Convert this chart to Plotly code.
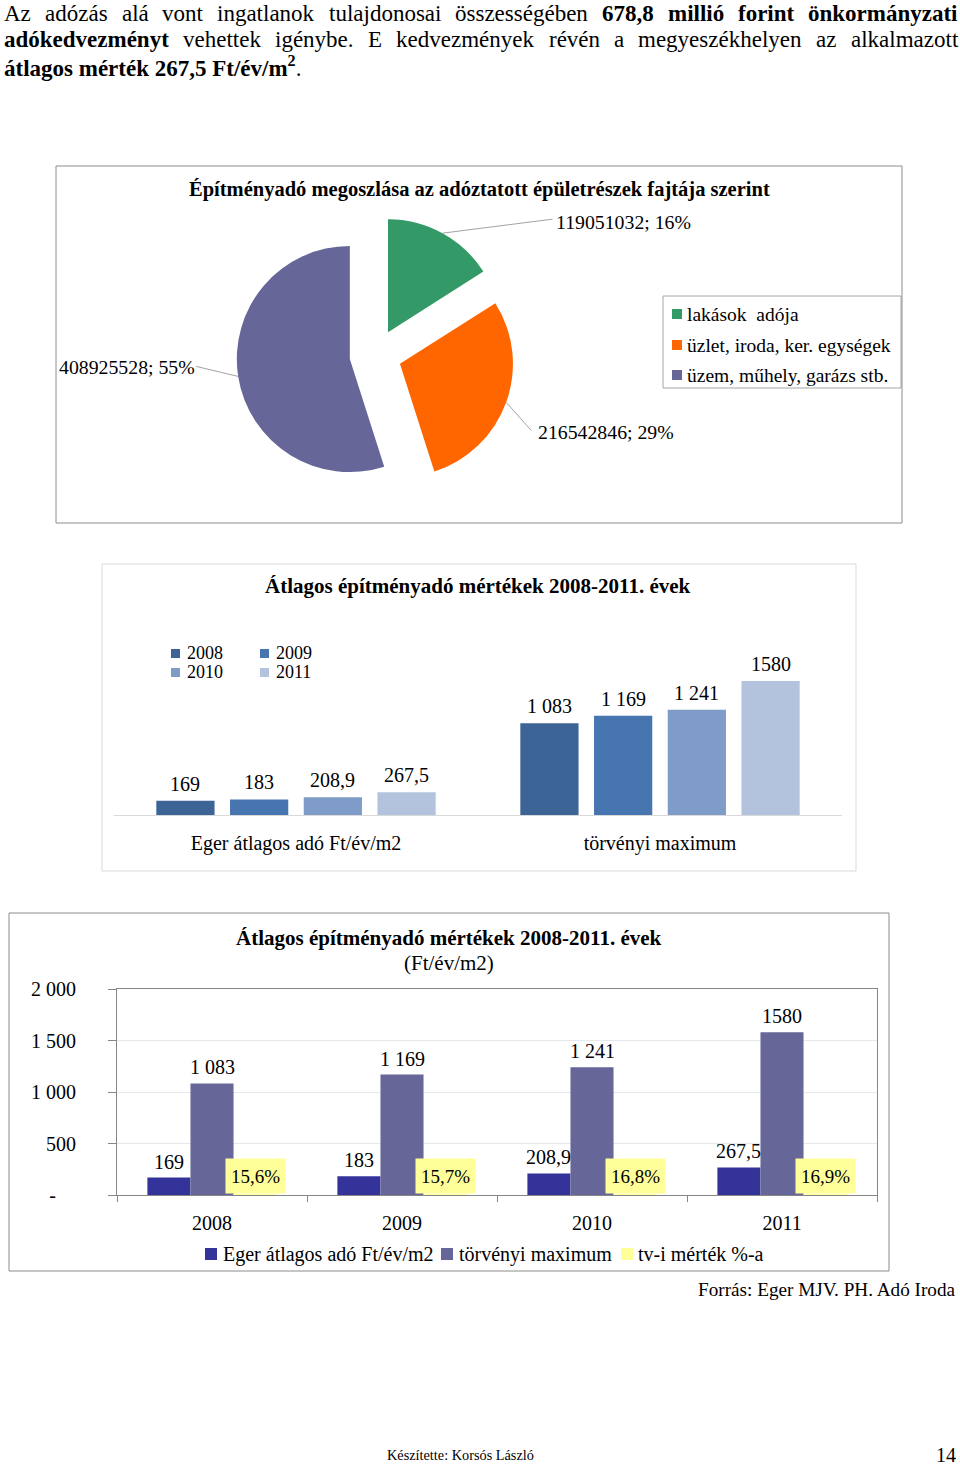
import math
import plotly.graph_objects as go

W, H = 960, 1468

# ---------------- data ----------------
pie_labels = ["lakások\u00a0 adója", "üzlet, iroda, ker. egységek", "üzem, műhely, garázs stb."]
pie_values = [119051032, 216542846, 408925528]
pie_colors = ["#339966", "#FF6600", "#666699"]

years = ["2008", "2009", "2010", "2011"]
eger_avg = [169, 183, 208.9, 267.5]
legal_max = [1083, 1169, 1241, 1580]
legal_pct = [0.156, 0.157, 0.168, 0.169]
eger_labels = ["169", "183", "208,9", "267,5"]
legal_labels = ["1 083", "1 169", "1 241", "1580"]
pct_labels = ["15,6%", "15,7%", "16,8%", "16,9%"]

groups2 = ["Eger átlagos adó Ft/év/m2", "törvényi maximum"]
year_colors = ["#3D6497", "#4775AF", "#7F9CC8", "#B3C3DE"]
ser3_names = ["Eger átlagos adó Ft/év/m2", "törvényi maximum", "tv-i mérték %-a"]
ser3_colors = ["#333399", "#666699", "#FFFF99"]

y3_ticks = [0, 500, 1000, 1500, 2000]
y3_ticktext = ["-\u00a0\u00a0\u00a0\u00a0", "500", "1 000", "1 500", "2 000"]

# ---------------- helpers ----------------
def X(p):
    return p / W


def Y(p):
    return 1 - p / H


TR = {"A": 722, "E": 611, "a": 444, "á": 444, "b": 500, "d": 500, "e": 444, "é": 444, "g": 500,
      "h": 500, "i": 278, "j": 278, "k": 500, "l": 278, "m": 778, "n": 500, "o": 500, "ó": 500,
      "ö": 500, "r": 333, "s": 389, "t": 278, "u": 500, "v": 500, "y": 500, "z": 444, ".": 250,
      ",": 250, " ": 250}
TB = {"a": 500, "á": 500, "d": 556, "e": 444, "é": 444, "f": 333, "i": 278, "k": 556, "l": 278,
      "m": 833, "n": 556, "o": 500, "ó": 500, "ö": 500, "r": 444, "t": 333, "v": 500, "y": 500,
      "z": 444, ",": 250, ".": 250, " ": 250}


def tw(s, bold, size):
    t = TB if bold else TR
    return sum(t.get(c, 500) for c in s) / 1000.0 * size


def note(x, y, text, size, xanchor="center", yanchor="middle", **kw):
    d = dict(xref="paper", yref="paper", x=X(x), y=Y(y), xanchor=xanchor, yanchor=yanchor,
             text=text, showarrow=False, borderpad=0, font=dict(size=size))
    d.update(kw)
    return d


fig = go.Figure()
annotations = []
shapes = []

# ---------------- pie ----------------
PIE_CX, PIE_CY, PIE_R, PIE_PULL = 375.5, 355.0, 113.0, 0.23
half = PIE_R * (1 + PIE_PULL)
fig.add_trace(go.Pie(
    labels=pie_labels, values=pie_values, sort=False, direction="clockwise", rotation=0,
    pull=[PIE_PULL] * len(pie_values), marker=dict(colors=pie_colors, line=dict(width=0)),
    textinfo="none", showlegend=False, hoverinfo="label+value+percent",
    domain=dict(x=[X(PIE_CX - half), X(PIE_CX + half)], y=[Y(PIE_CY + half), Y(PIE_CY - half)]),
))

total = float(sum(pie_values))
leader_tail = [(110, -14), (25, 28), (-42, -10)]
label_pos = [(555, 222, "left"), (537, 432, "left"), (196, 367, "right")]
cum = 0.0
for i, v in enumerate(pie_values):
    frac = v / total
    mid = (cum + frac / 2) * 2 * math.pi
    cum += frac
    tx = PIE_CX + PIE_R * (1 + PIE_PULL) * math.sin(mid)
    ty = PIE_CY - PIE_R * (1 + PIE_PULL) * math.cos(mid)
    shapes.append(dict(type="line", xref="paper", yref="paper", x0=X(tx), y0=Y(ty),
                       x1=X(tx + leader_tail[i][0]), y1=Y(ty + leader_tail[i][1]),
                       line=dict(color="#8a8a8a", width=0.8)))
    lx, ly, anc = label_pos[i]
    annotations.append(note(lx, ly, f"{v}; {round(frac * 100)}%", 19.8, xanchor=anc))

annotations.append(note(479, 190, "<b>Építményadó megoszlása az adóztatott épületrészek fajtája szerint</b>", 20.5))
shapes.append(dict(type="rect", xref="paper", yref="paper", x0=X(663), x1=X(901), y0=Y(296), y1=Y(388),
                   line=dict(color="#a6a6a6", width=1)))
for lab, col, yy in zip(pie_labels, pie_colors, [314, 345, 375]):
    shapes.append(dict(type="rect", xref="paper", yref="paper", x0=X(672), x1=X(682), y0=Y(yy + 5), y1=Y(yy - 5),
                       fillcolor=col, line=dict(width=0)))
    annotations.append(note(686, yy, lab, 19.5, xanchor="left"))
shapes.append(dict(type="rect", xref="paper", yref="paper", x0=X(56), x1=X(902), y0=Y(166), y1=Y(523),
                   line=dict(color="#8c8c8c", width=1)))

# ---------------- chart 2 ----------------
S2 = (815 - 681) / 1580.0
CH2_GAP = 0.19
CH2_BARFRAC = 0.79
slot = (1 - CH2_GAP) / len(years)
w2 = slot * CH2_BARFRAC
for i, yr in enumerate(years):
    off = -(1 - CH2_GAP) / 2 + i * slot + (slot - w2) / 2
    vals = [eger_avg[i], legal_max[i]]
    labs = [eger_labels[i], legal_labels[i]]
    fig.add_trace(go.Bar(
        x=groups2, y=vals, name=yr, marker=dict(color=year_colors[i], line=dict(width=0)),
        width=w2, offset=off, xaxis="x", yaxis="y", showlegend=False,
    ))
    for j in range(len(groups2)):
        annotations.append(dict(xref="x", yref="y", x=j + off + w2 / 2, y=vals[j], xanchor="center",
                                yanchor="bottom", yshift=5, text=labs[j], showarrow=False, borderpad=0,
                                font=dict(size=20)))
annotations.append(note(478, 586, "<b>Átlagos építményadó mértékek 2008-2011. évek</b>", 21))
leg2 = [(171, 653), (260, 653), (171, 672), (260, 672)]
for i, yr in enumerate(years):
    lx, ly = leg2[i]
    shapes.append(dict(type="rect", xref="paper", yref="paper", x0=X(lx), x1=X(lx + 9), y0=Y(ly + 5), y1=Y(ly - 4),
                       fillcolor=year_colors[i], line=dict(width=0)))
    annotations.append(note(lx + 15, ly, yr, 18, xanchor="left"))
shapes.append(dict(type="rect", xref="paper", yref="paper", x0=X(102), x1=X(856), y0=Y(564), y1=Y(871),
                   line=dict(color="#d9d9d9", width=1)))

# ---------------- chart 3 ----------------
BARGAP3 = 0.32
bw3 = (1 - BARGAP3) / 3.0
ser3_vals = [eger_avg, legal_max, legal_pct]
ser3_text = [eger_labels, legal_labels, None]
for k in range(3):
    fig.add_trace(go.Bar(
        x=years, y=ser3_vals[k], name=ser3_names[k],
        marker=dict(color=ser3_colors[k], line=dict(width=0)),
        xaxis="x2", yaxis="y2", showlegend=False,
    ))
    if ser3_text[k]:
        for i in range(len(years)):
            annotations.append(dict(xref="x2", yref="y2", x=i + (k - 1) * bw3, y=ser3_vals[k][i],
                                    xanchor="center", yanchor="bottom", yshift=4, text=ser3_text[k][i],
                                    showarrow=False, borderpad=0, font=dict(size=20)))
for i, lab in enumerate(pct_labels):
    annotations.append(dict(xref="x2", yref="y2", x=i + bw3, y=legal_pct[i], xanchor="center",
                            yanchor="bottom", yshift=1, text=lab, showarrow=False, bgcolor="#FFFF99",
                            width=59, height=34, borderpad=0, font=dict(size=19)))
annotations.append(note(449, 938, "<b>Átlagos építményadó mértékek 2008-2011. évek</b>", 21))
annotations.append(note(449, 963, "(Ft/év/m2)", 21))
leg3 = [(205, 222), (441, 458), (621, 637)]
for k in range(3):
    sx, tx = leg3[k]
    shapes.append(dict(type="rect", xref="paper", yref="paper", x0=X(sx), x1=X(sx + 12), y0=Y(1260), y1=Y(1248),
                       fillcolor=ser3_colors[k], line=dict(width=0)))
    annotations.append(note(tx, 1254, ser3_names[k], 20, xanchor="left"))
shapes.append(dict(type="rect", xref="paper", yref="paper", x0=X(9), x1=X(889), y0=Y(913), y1=Y(1271),
                   line=dict(color="#8c8c8c", width=1)))

# ---------------- page text ----------------
line1 = [("Az", 0), ("adózás", 0), ("alá", 0), ("vont", 0), ("ingatlanok", 0), ("tulajdonosai", 0),
         ("összességében", 0), ("678,8", 1), ("millió", 1), ("forint", 1), ("önkormányzati", 1)]
line2 = [("adókedvezményt", 1), ("vehettek", 0), ("igénybe.", 0), ("E", 0), ("kedvezmények", 0),
         ("révén", 0), ("a", 0), ("megyeszékhelyen", 0), ("az", 0), ("alkalmazott", 0)]
FS = 23
XL, XR = 3, 957
for words, yy in [(line1, 14), (line2, 40)]:
    widths = [tw(wd, b, FS) for wd, b in words]
    gap = (XR - XL - sum(widths)) / (len(words) - 1)
    xpos = XL
    for (wd, b), wdt in zip(words, widths):
        annotations.append(note(xpos, yy, f"<b>{wd}</b>" if b else wd, FS, xanchor="left"))
        xpos += wdt + gap
annotations.append(note(XL, 66, "<b>átlagos mérték 267,5 Ft/év/m<sup>2</sup></b>.", FS, xanchor="left"))
annotations.append(note(957, 1289, "Forrás: Eger MJV. PH. Adó Iroda", 19.2, xanchor="right"))
annotations.append(note(386, 1455, "Készítette: Korsós László", 14.3, xanchor="left"))
annotations.append(note(957, 1455, "14", 20, xanchor="right"))

fig.update_layout(
    width=W, height=H, margin=dict(l=0, r=0, t=0, b=0, pad=0, autoexpand=False),
    paper_bgcolor="white", plot_bgcolor="rgba(0,0,0,0)",
    font=dict(family="Liberation Serif", size=20, color="black"),
    barmode="group", bargap=BARGAP3, bargroupgap=0, showlegend=False,
    xaxis=dict(domain=[X(114), X(842)], anchor="y", type="category", showline=True, linecolor="#d9d9d9",
               linewidth=1, ticks="", showgrid=False, zeroline=False, tickfont=dict(size=20),
               ticklabelstandoff=10, fixedrange=True, automargin=False),
    yaxis=dict(domain=[Y(815), Y(815 - 2000 * S2)], anchor="x", range=[0, 2000], visible=False,
               fixedrange=True, automargin=False),
    xaxis2=dict(domain=[X(117), X(877)], anchor="y2", type="category", showline=True, linecolor="#868686",
                mirror=True, ticks="outside", tickson="boundaries", ticklen=6, tickcolor="#868686",
                showgrid=False, zeroline=False, tickfont=dict(size=20), ticklabelstandoff=10,
                fixedrange=True, automargin=False),
    yaxis2=dict(domain=[Y(1195), Y(989)], anchor="x2", range=[0, 2000], tickmode="array",
                tickvals=y3_ticks, ticktext=y3_ticktext, ticks="outside", ticklen=8, tickcolor="#868686",
                showline=True, linecolor="#868686", mirror=True, showgrid=True, gridcolor="#e3e9ec",
                zeroline=False, tickfont=dict(size=20), ticklabelstandoff=28, fixedrange=True,
                automargin=False),
    annotations=annotations, shapes=shapes,
)

fig.write_html("out.html", config={"displayModeBar": False},
               post_script="document.body.style.margin='0';document.body.style.overflow='hidden';")
